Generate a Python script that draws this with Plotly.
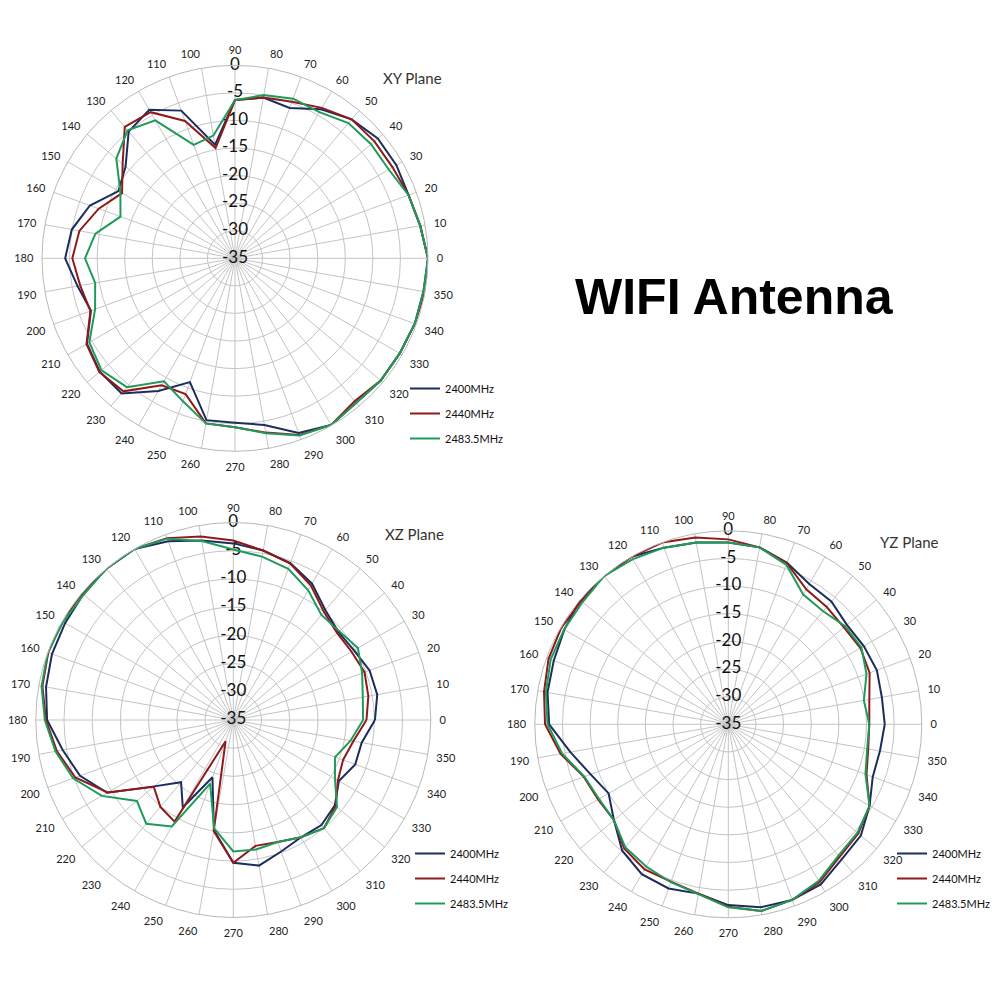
import plotly.graph_objects as go

# ---------------- data ----------------
angles = [0, 10, 20, 30, 40, 50, 60, 70, 80, 90, 100, 110, 120, 130, 140, 150, 160, 170,
          180, 190, 200, 210, 220, 230, 240, 250, 260, 270, 280, 290, 300, 310, 320, 330, 340, 350]

series_names = ["2400MHz", "2440MHz", "2483.5MHz"]
series_colors = ["#1b2d5c", "#8e1a1a", "#1f9a5a"]

xy_2400 = [0, -0.9, -1.5, -1.2, -1.2, -2.1, -3.8, -6.0, -5.4, -6.3, -14.1, -6.5, -3.9, -5.0, -9.1, -10.6, -7.0, -4.95,
           -4.2, -6.0, -7.2, -4.0, -3.0, -3.0, -7.2, -11.1, -5.2, -5.2, -4.3, -1.3, -0.1, -0.8, -0.5, -0.5, -0.3, -0.3]
xy_2440 = [0, -0.9, -1.5, -2.0, -2.0, -2.1, -3.5, -4.8, -5.4, -6.3, -14.7, -8.5, -4.4, -3.9, -8.4, -11.35, -8.7, -6.35,
           -5.5, -6.5, -7.1, -3.9, -2.9, -3.5, -8.4, -8.8, -4.6, -4.35, -2.9, -0.9, -0.1, -1.2, -0.5, -0.5, -0.3, 0]
xy_2483 = [0, -0.9, -1.5, -2.8, -2.8, -3.0, -4.4, -4.2, -4.95, -6.3, -12.4, -13.1, -6.1, -4.7, -6.9, -11.0, -12.9, -9.3,
           -7.8, -9.25, -8.0, -4.5, -3.4, -4.5, -9.25, -7.4, -4.6, -4.35, -2.8, -0.8, -0.1, -0.8, -0.5, -0.5, -0.3, -0.3]

xz_2400 = [-9.9, -9.1, -9.3, -10.3, -10.7, -9.6, -7.1, -5.4, -4.5, -3.7, -2.7, -1.3, 0, 0, -0.3, -0.6, -0.8, -1.3,
           -2.0, -4.3, -6.1, -9.2, -16.7, -20.6, -17.1, -24.2, -15.2, -9.7, -8.8, -10.2, -11.0, -10.7, -11.5, -13.4, -12.0, -11.9]
xz_2440 = [-11.4, -10.7, -10.25, -10.8, -11.0, -10.0, -7.5, -5.5, -4.5, -3.2, -2.0, -0.7, 0, 0, 0, 0, -0.1, -0.65,
           -1.8, -3.25, -5.2, -9.3, -16.6, -14.9, -14.2, -31.0, -15.0, -9.7, -12.35, -12.0, -11.0, -10.0, -11.3, -13.6, -14.3, -13.4]
xz_2483 = [-12.0, -11.7, -10.7, -9.5, -10.5, -10.7, -8.45, -6.5, -5.6, -4.8, -2.8, -0.8, 0, 0, -0.4, -0.2, 0, -0.5,
           -1.6, -3.0, -4.8, -8.1, -12.7, -11.0, -13.2, -23.0, -15.5, -11.7, -11.7, -12.0, -11.0, -10.0, -11.0, -14.2, -15.8, -13.9]

yz_2400 = [-6.7, -6.8, -6.4, -6.7, -7.0, -6.0, -5.7, -3.9, -2.5, -2.1, -1.6, -1.0, 0, 0, 0, -0.75, -1.4, -1.8,
           -2.6, -6.0, -8.5, -10.0, -8.0, -5.15, -3.7, -3.4, -3.9, -2.3, -1.4, -1.2, -1.55, -3.1, -3.7, -5.5, -7.2, -7.15]
yz_2440 = [-9.5, -9.1, -7.8, -7.4, -7.7, -7.3, -6.8, -4.0, -2.5, -1.55, -0.7, 0, 0, 0, -0.3, -0.1, -0.4, -1.15,
           -1.85, -4.2, -7.2, -7.8, -8.0, -5.7, -4.7, -4.7, -3.9, -2.0, -0.7, -1.2, -2.0, -3.7, -4.3, -5.5, -8.4, -9.3]
yz_2483 = [-9.5, -10.1, -8.4, -7.2, -7.4, -8.3, -7.9, -4.3, -2.5, -2.1, -1.6, -1.0, -0.5, 0, -0.6, -0.7, -0.8, -1.5,
           -2.3, -4.5, -7.3, -8.0, -8.0, -6.0, -5.3, -4.6, -3.8, -1.9, -0.7, -1.2, -2.3, -4.0, -4.5, -5.5, -8.6, -9.5]

radial_ticks = [0, -5, -10, -15, -20, -25, -30, -35]
radial_tick_text = ["0", "-5", "-10", "-15", "-20", "-25", "-30", "-35"]
angle_tick_text = [str(a) for a in angles]

planes = [
    ("polar", "legend", "XY Plane", [xy_2400, xy_2440, xy_2483]),
    ("polar2", "legend2", "XZ Plane", [xz_2400, xz_2440, xz_2483]),
    ("polar3", "legend3", "YZ Plane", [yz_2400, yz_2440, yz_2483]),
]

# page has an 8px body margin; figure is 992x992 placed at (8, 8)
W = 992
OFF = 8


def px(x):
    return (x - OFF) / W


def py(y):
    return 1 - (y - OFF) / W


FONT = "Lato, 'Open Sans', sans-serif"
fig = go.Figure()

for subplot, legend_id, _title, data in planes:
    # radial tick labels drawn along the 90 degree spoke
    fig.add_trace(go.Scatterpolar(
        r=radial_ticks, theta=[90] * len(radial_ticks), mode="text",
        text=radial_tick_text, textposition="middle center",
        textfont=dict(size=17, color="#111111", family=FONT),
        subplot=subplot, showlegend=False, hoverinfo="skip"))
    for name, color, vals in zip(series_names, series_colors, data):
        fig.add_trace(go.Scatterpolar(
            r=vals + vals[:1], theta=angles + angles[:1], mode="lines",
            line=dict(color=color, width=2), name=name,
            subplot=subplot, legend=legend_id, legendgroup=subplot + name))


def polar_layout(cx, cy, rad):
    return dict(
        domain=dict(x=[px(cx - rad), px(cx + rad)],
                    y=[py(cy + rad), py(cy - rad)]),
        bgcolor="white",
        radialaxis=dict(range=[-35, 0], tickvals=radial_ticks, showticklabels=False,
                        ticks="", showline=False, gridcolor="#c4c4c4", gridwidth=1, angle=90),
        angularaxis=dict(rotation=0, direction="counterclockwise",
                         tickvals=angles, ticktext=angle_tick_text,
                         ticks="outside", ticklen=6, tickcolor="rgba(0,0,0,0)",
                         tickfont=dict(size=11, color="#222222", family=FONT),
                         gridcolor="#c4c4c4", gridwidth=1,
                         showline=True, linecolor="#b8b8b8", linewidth=1),
    )


legend_common = dict(font=dict(size=11, color="#111111", family=FONT),
                     bgcolor="rgba(0,0,0,0)", xanchor="left", yanchor="top",
                     traceorder="grouped", tracegroupgap=6, itemwidth=30)


def title_ann(text, x, y, size, family, color):
    return dict(text=text, x=px(x), y=py(y), xref="paper", yref="paper",
                xanchor="center", yanchor="middle", showarrow=False,
                font=dict(size=size, color=color, family=family))


fig.update_layout(
    width=W, height=W,
    margin=dict(l=0, r=0, t=0, b=0),
    paper_bgcolor="white",
    polar=polar_layout(235, 258.3, 193),
    polar2=polar_layout(233.3, 720, 197.5),
    polar3=polar_layout(728.3, 724.3, 193.5),
    legend=dict(x=px(405), y=py(374), **legend_common),
    legend2=dict(x=px(410), y=py(839), **legend_common),
    legend3=dict(x=px(892), y=py(839), **legend_common),
    annotations=[
        title_ann("XY Plane", 412.5, 77.5, 15, FONT, "#333333"),
        title_ann("XZ Plane", 414, 533.5, 15, FONT, "#333333"),
        title_ann("YZ Plane", 909, 541.5, 15, FONT, "#333333"),
        title_ann("<b>WIFI Antenna</b>", 734, 297, 50, "'Liberation Sans', Arial, sans-serif", "#000000"),
    ],
)

fig.write_html("out.html")
